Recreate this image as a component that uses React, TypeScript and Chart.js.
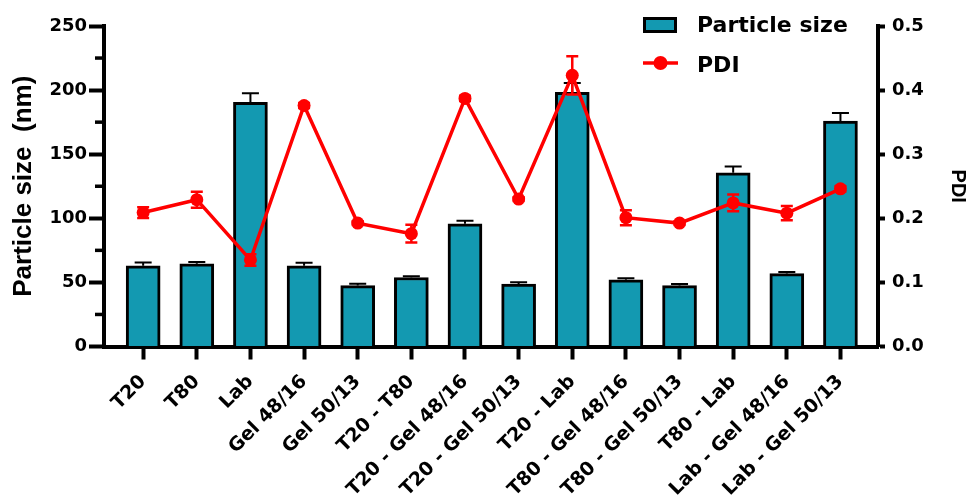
import { useEffect, useRef } from 'react';
import { Chart, registerables } from 'chart.js';

Chart.register(...registerables);

const categories = [
  'T20', 'T80', 'Lab', 'Gel 48/16', 'Gel 50/13', 'T20 - T80', 'T20 - Gel 48/16',
  'T20 - Gel 50/13', 'T20 - Lab', 'T80 - Gel 48/16', 'T80 - Gel 50/13', 'T80 - Lab',
  'Lab - Gel 48/16', 'Lab - Gel 50/13',
];
const particleSize = [63, 64.5, 190.5, 63, 47.5, 53.8, 95.7, 48.6, 198.3, 52, 47.5, 135.5, 56.9, 175.9];
const particleSizeErr = [2.5, 1.5, 7, 2.4, 1.5, 0.9, 2.3, 1.5, 7.3, 1.3, 1.3, 5, 1.3, 6.3];
const pdi = [0.209, 0.229, 0.135, 0.376, 0.1925, 0.176, 0.387, 0.23, 0.423, 0.201, 0.1925, 0.224, 0.208, 0.246];
const pdiErr = [0.0084, 0.0125, 0.009, 0.004, 0.003, 0.0138, 0.004, 0.003, 0.03, 0.0117, 0.003, 0.013, 0.011, 0.004];
const leftTicks = [0, 50, 100, 150, 200, 250];
const leftMinorTicks = [25, 75, 125, 175, 225];
const rightTicks = [0, 0.1, 0.2, 0.3, 0.4, 0.5];

const TEAL = '#1399b1';
const RED = '#ff0000';
const TICK_FONT = { family: 'DejaVu Sans', size: 18, weight: 'bold' as const };

const errorBarsPlugin = {
  id: 'errorBars',
  afterDatasetDraw(chart: any, args: any) {
    const ctx = chart.ctx;
    const x = chart.scales.x;
    if (args.index === 0) {
      const y = chart.scales.y;
      ctx.save();
      ctx.strokeStyle = '#000';
      ctx.lineWidth = 2;
      particleSize.forEach((v, i) => {
        const px = x.getPixelForValue(i);
        const y0 = y.getPixelForValue(v);
        const y1 = y.getPixelForValue(v + particleSizeErr[i]);
        ctx.beginPath();
        ctx.moveTo(px, y0);
        ctx.lineTo(px, y1);
        ctx.moveTo(px - 8.5, y1);
        ctx.lineTo(px + 8.5, y1);
        ctx.stroke();
      });
      ctx.restore();
    } else if (args.index === 1) {
      const y = chart.scales.y1;
      ctx.save();
      ctx.strokeStyle = RED;
      ctx.lineWidth = 2.5;
      pdi.forEach((v, i) => {
        const px = x.getPixelForValue(i);
        const ya = y.getPixelForValue(v - pdiErr[i]);
        const yb = y.getPixelForValue(v + pdiErr[i]);
        ctx.beginPath();
        ctx.moveTo(px, ya);
        ctx.lineTo(px, yb);
        ctx.moveTo(px - 6, ya);
        ctx.lineTo(px + 6, ya);
        ctx.moveTo(px - 6, yb);
        ctx.lineTo(px + 6, yb);
        ctx.stroke();
      });
      ctx.restore();
    }
  },
};

const extrasPlugin = {
  id: 'extras',
  afterDraw(chart: any) {
    const ctx = chart.ctx;
    const y = chart.scales.y;
    const axisX = chart.chartArea.left;
    ctx.save();
    ctx.strokeStyle = '#000';
    ctx.lineWidth = 3.5;
    leftMinorTicks.forEach((v) => {
      const py = y.getPixelForValue(v);
      ctx.beginPath();
      ctx.moveTo(axisX, py);
      ctx.lineTo(axisX - 9, py);
      ctx.stroke();
    });

    // legend
    ctx.fillStyle = TEAL;
    ctx.fillRect(643, 17, 34, 16);
    ctx.lineWidth = 3;
    ctx.strokeStyle = '#000';
    ctx.strokeRect(644.5, 18.5, 31, 13);
    ctx.font = 'bold 22px "DejaVu Sans"';
    ctx.fillStyle = '#000';
    ctx.textBaseline = 'alphabetic';
    ctx.textAlign = 'left';
    ctx.fillText('Particle size', 697, 32);

    ctx.strokeStyle = RED;
    ctx.lineWidth = 3.5;
    ctx.beginPath();
    ctx.moveTo(643, 63);
    ctx.lineTo(678, 63);
    ctx.stroke();
    ctx.fillStyle = RED;
    ctx.beginPath();
    ctx.arc(660.5, 63, 7, 0, Math.PI * 2);
    ctx.fill();
    ctx.fillStyle = '#000';
    ctx.fillText('PDI', 697, 72);
    ctx.restore();
  },
};

export default function App() {
  const ref = useRef<HTMLCanvasElement | null>(null);

  useEffect(() => {
    if (!ref.current) return;
    const chart = new Chart(ref.current, {
      type: 'bar',
      data: {
        datasets: [
          {
            type: 'bar',
            label: 'Particle size',
            data: particleSize.map((v, i) => ({ x: i, y: v })),
            yAxisID: 'y',
            backgroundColor: TEAL,
            borderColor: '#000',
            borderWidth: 3,
            barThickness: 34,
            order: 2,
          } as any,
          {
            type: 'line',
            label: 'PDI',
            data: pdi.map((v, i) => ({ x: i, y: v })),
            yAxisID: 'y1',
            borderColor: RED,
            backgroundColor: RED,
            borderWidth: 3.5,
            pointRadius: 6.5,
            pointBackgroundColor: RED,
            pointBorderWidth: 0,
            order: 1,
          } as any,
        ],
      },
      options: {
        animation: false,
        responsive: false,
        layout: { padding: { top: 26, left: 0, right: 0, bottom: 0 } },
        plugins: { legend: { display: false }, tooltip: { enabled: false } },
        scales: {
          x: {
            type: 'linear',
            min: -0.73,
            max: 13.7,
            offset: false,
            afterBuildTicks: (s: any) => {
              s.ticks = categories.map((_, i) => ({ value: i }));
            },
            afterFit: (s: any) => {
              s.height = 153.5;
            },
            ticks: {
              autoSkip: false,
              minRotation: 45,
              maxRotation: 45,
              color: '#000',
              font: { family: 'DejaVu Sans', size: 19, weight: 'bold' },
              padding: 11,
              callback: (v: any) => categories[Math.round(v)] ?? '',
            },
            grid: { offset: false, drawOnChartArea: false, tickLength: 13, tickWidth: 4, tickColor: '#000' },
            border: { color: '#000', width: 4 },
          } as any,
          y: {
            position: 'left',
            min: 0,
            max: 250,
            afterBuildTicks: (s: any) => {
              s.ticks = leftTicks.map((v) => ({ value: v }));
            },
            afterFit: (s: any) => {
              s.width = 104;
            },
            ticks: { color: '#000', font: TICK_FONT, padding: 2 },
            grid: { drawOnChartArea: false, tickLength: 15, tickWidth: 4, tickColor: '#000' },
            border: { color: '#000', width: 4 },
            title: {
              display: true,
              text: 'Particle size  (nm)',
              color: '#000',
              font: { family: 'Liberation Sans', size: 26, weight: 'bold', lineHeight: 1.2 },
              padding: { top: 8, bottom: 0 },
            },
          } as any,
          y1: {
            position: 'right',
            min: 0,
            max: 0.5,
            afterBuildTicks: (s: any) => {
              s.ticks = rightTicks.map((v) => ({ value: v }));
            },
            afterFit: (s: any) => {
              s.width = 91;
            },
            ticks: {
              color: '#000',
              font: TICK_FONT,
              padding: 7,
              callback: (v: any) => Number(v).toFixed(1),
            },
            grid: { drawOnChartArea: false, tickLength: 7, tickWidth: 4, tickColor: '#000' },
            border: { color: '#000', width: 4 },
            title: {
              display: true,
              text: 'PDI',
              color: '#000',
              font: { family: 'Liberation Sans', size: 20, weight: 'bold', lineHeight: 1 },
              padding: { top: 1, bottom: 0 },
            },
          } as any,
        },
      },
      plugins: [errorBarsPlugin, extrasPlugin],
    });
    return () => chart.destroy();
  }, []);

  return (
    <div style={{ position: 'fixed', left: 0, top: 0, width: 969, height: 500, background: '#fff' }}>
      <canvas ref={ref} width={969} height={500} style={{ display: 'block' }} />
    </div>
  );
}
